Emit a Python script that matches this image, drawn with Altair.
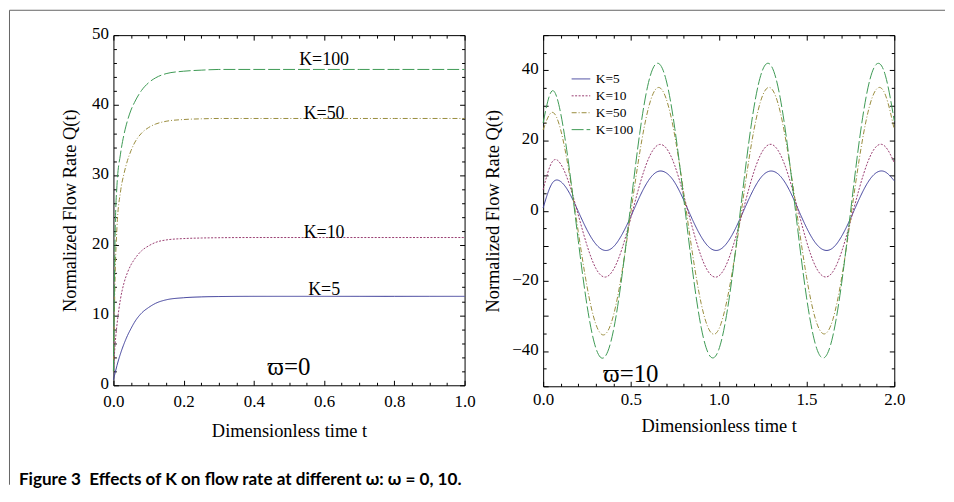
import altair as alt
import pandas as pd

# ---------------- data ----------------
K_LABELS = ["K=5", "K=10", "K=50", "K=100"]

# left panel (omega = 0)
T_W0 = [0, 0.005, 0.01, 0.02, 0.03, 0.04, 0.05, 0.06, 0.08, 0.10, 0.12, 0.15,
        0.20, 0.25, 0.30, 0.40, 0.50, 0.60, 0.70, 0.80, 0.90, 1.00]
W0_K5 = [0.8, 1.8, 2.8, 4.5, 5.9, 7.1, 8.1, 9.0, 10.3, 11.1, 11.7, 12.2,
         12.5, 12.62, 12.67, 12.7, 12.7, 12.7, 12.7, 12.7, 12.7, 12.7]
W0_K10 = [2.0, 6.0, 8.6, 12.3, 14.6, 16.1, 17.2, 18.0, 19.2, 19.9, 20.4, 20.75,
          20.95, 21.03, 21.07, 21.1, 21.1, 21.1, 21.1, 21.1, 21.1, 21.1]
W0_K50 = [2.0, 16.0, 22.5, 27.6, 30.2, 32.1, 33.5, 34.6, 36.0, 36.8, 37.3, 37.7,
          37.95, 38.05, 38.1, 38.1, 38.1, 38.1, 38.1, 38.1, 38.1, 38.1]
W0_K100 = [2.0, 22.0, 28.5, 33.0, 35.8, 37.8, 39.3, 40.4, 42.1, 43.2, 43.9, 44.5,
           44.85, 45.0, 45.1, 45.1, 45.1, 45.1, 45.1, 45.1, 45.1, 45.1]

# right panel (omega = 10)
T_W10 = [0.00, 0.05, 0.10, 0.15, 0.20, 0.25, 0.30, 0.35, 0.40, 0.45, 0.50,
         0.55, 0.60, 0.65, 0.70, 0.75, 0.80, 0.85, 0.90, 0.95, 1.00,
         1.05, 1.10, 1.15, 1.20, 1.25, 1.30, 1.35, 1.40, 1.45, 1.50,
         1.55, 1.60, 1.65, 1.70, 1.75, 1.80, 1.85, 1.90, 1.95, 2.00]
W10_K5 = [0.8, 7.7, 8.3, 5.0, -0.2, -5.5, -9.5, -11.3, -10.3, -6.7, -1.6,
          4.0, 8.6, 11.1, 10.8, 8.0, 3.1, -2.5, -7.4, -10.6, -11.2,
          -9.0, -4.6, 0.9, 6.2, 10.0, 11.3, 9.9, 6.1, 0.7, -4.8,
          -9.1, -11.2, -10.6, -7.3, -2.3, 3.3, 8.1, 10.9, 11.0, 8.5]
W10_K10 = [6.0, 13.8, 13.3, 7.4, -1.2, -9.9, -16.4, -18.9, -16.8, -10.7, -1.9,
           7.4, 14.8, 18.6, 17.9, 12.8, 4.5, -4.8, -13.0, -18.0, -18.6,
           -14.6, -7.0, 2.2, 11.0, 17.0, 18.9, 16.1, 9.5, 0.5, -8.7,
           -15.7, -18.8, -17.4, -11.7, -3.1, 6.2, 14.0, 18.4, 18.2, 13.7]
W10_K50 = [23.0, 28.0, 23.0, 10.3, -6.0, -21.6, -32.3, -35.3, -29.9, -17.2, -0.3,
           16.5, 29.3, 35.0, 32.0, 21.3, 5.3, -12.0, -26.4, -34.3, -33.8,
           -24.8, -10.2, 7.2, 22.8, 32.8, 34.8, 28.2, 14.7, -2.3, -18.8,
           -30.7, -35.1, -31.0, -19.2, -2.6, 14.5, 28.0, 34.7, 32.9, 23.1]
W10_K100 = [25.0, 34.1, 27.7, 11.6, -8.5, -27.0, -39.1, -41.7, -34.2, -18.2, 2.1,
            22.0, 36.5, 42.0, 37.3, 23.4, 3.8, -16.7, -33.2, -41.4, -39.6,
            -28.1, -9.7, 11.1, 29.2, 40.1, 41.2, 32.2, 15.3, -5.3, -24.6,
            -37.9, -41.9, -35.7, -20.7, -0.7, 19.6, 35.0, 41.8, 38.4, 25.6]

# tick values
L_X_MAJOR = [0, 0.2, 0.4, 0.6, 0.8, 1.0]
L_X_MINOR = [0.05, 0.1, 0.15, 0.25, 0.3, 0.35, 0.45, 0.5, 0.55, 0.65, 0.7, 0.75, 0.85, 0.9, 0.95]
L_Y_MAJOR = [0, 10, 20, 30, 40, 50]
L_Y_MINOR = [2, 4, 6, 8, 12, 14, 16, 18, 22, 24, 26, 28, 32, 34, 36, 38, 42, 44, 46, 48]
R_X_MAJOR = [0, 0.5, 1.0, 1.5, 2.0]
R_X_MINOR = [0.1, 0.2, 0.3, 0.4, 0.6, 0.7, 0.8, 0.9, 1.1, 1.2, 1.3, 1.4, 1.6, 1.7, 1.8, 1.9]
R_Y_MAJOR = [-40, -20, 0, 20, 40]
R_Y_TICKS = [-50, -40, -30, -20, -10, 0, 10, 20, 30, 40, 50]
R_Y_MINOR = [-45, -35, -25, -15, -5, 5, 15, 25, 35, 45]

# annotations
LEFT_NOTES_TEXT = ["K=100", "K=50", "K=10", "K=5"]
LEFT_NOTES_T = [0.6, 0.6, 0.6, 0.6]
LEFT_NOTES_Q = [46.4, 38.8, 21.8, 13.55]
CAPTION = "Figure 3\u00a0\u00a0Effects of K on flow rate at different \u03c9: \u03c9 = 0, 10."

# ---------------- styles ----------------
SERIF = "Liberation Serif, Times New Roman, DejaVu Serif, serif"
COLORS = ["#3d3d99", "#993d71", "#998c3d", "#3d9954"]
DASHES = [[1, 0], [2, 1.5], [5, 2, 1, 2], [12, 3]]
W, H_L, H_R = 353, 352, 353


def long_df(t, series):
    rows = []
    for lab, vals in zip(K_LABELS, series):
        for tt, v in zip(t, vals):
            rows.append({"t": tt, "q": v, "K": lab})
    return pd.DataFrame(rows)


df0 = long_df(T_W0, [W0_K5, W0_K10, W0_K50, W0_K100])
df10 = long_df(T_W10, [W10_K5, W10_K10, W10_K50, W10_K100])


def tick_layers(df, xdom, ydom, xmaj, xmin, ymaj, ymin):
    out = []
    for xo, yo in (("bottom", "left"), ("top", "right")):
        for xv, yv, sz in ((xmaj, ymaj, 5), (xmin, ymin, 3)):
            out.append(
                alt.Chart(df).mark_point(opacity=0).encode(
                    x=alt.X("t:Q", scale=alt.Scale(domain=xdom, nice=False, zero=False),
                            axis=alt.Axis(orient=xo, values=xv, tickSize=sz, offset=-sz,
                                          labels=False, domain=False, grid=False, title=None,
                                          tickColor="#000", tickWidth=1)),
                    y=alt.Y("q:Q", scale=alt.Scale(domain=ydom, nice=False, zero=False),
                            axis=alt.Axis(orient=yo, values=yv, tickSize=sz, offset=-sz,
                                          labels=False, domain=False, grid=False, title=None,
                                          tickColor="#000", tickWidth=1)),
                )
            )
    return out


def lines(df, xdom, ydom, xlab, ylab, h, xpad, xtitle_y, ytitle_x, legend, interp):
    return alt.Chart(df).mark_line(strokeWidth=1, interpolate=interp).encode(
        x=alt.X("t:Q", scale=alt.Scale(domain=xdom, nice=False, zero=False),
                axis=alt.Axis(orient="bottom", values=xlab, format=".1f", ticks=False,
                              domain=False, grid=False, labelPadding=xpad,
                              title="Dimensionless time t", titleX=W / 2, titleY=xtitle_y,
                              titleBaseline="middle", titleAlign="center")),
        y=alt.Y("q:Q", scale=alt.Scale(domain=ydom, nice=False, zero=False),
                axis=alt.Axis(orient="left", values=ylab, format="d", ticks=False,
                              domain=False, grid=False, labelPadding=5, labelOffset=-1.5,
                              title="Normalized Flow Rate Q(t)", titleX=ytitle_x, titleY=h / 2,
                              titleAngle=270, titleBaseline="middle", titleAlign="center")),
        color=alt.Color("K:N", scale=alt.Scale(domain=K_LABELS, range=COLORS), legend=legend),
        strokeDash=alt.StrokeDash("K:N", scale=alt.Scale(domain=K_LABELS, range=DASHES), legend=legend),
    )


one = pd.DataFrame({"a": [0]})

# ---------------- left panel ----------------
notes_df = pd.DataFrame({"text": LEFT_NOTES_TEXT, "t": LEFT_NOTES_T, "q": LEFT_NOTES_Q})
left_notes = alt.Chart(notes_df).mark_text(font=SERIF, fontSize=18, baseline="middle", align="center", color="#000").encode(
    x=alt.X("t:Q", scale=alt.Scale(domain=[0, 1], nice=False, zero=False), axis=None),
    y=alt.Y("q:Q", scale=alt.Scale(domain=[0, 50], nice=False, zero=False), axis=None),
    text="text:N",
)
om0_df = pd.DataFrame({"text": ["\u03d6=0"], "t": [0.5], "q": [2.54]})
left_om = alt.Chart(om0_df).mark_text(font=SERIF, fontSize=25, baseline="middle", align="center", color="#000").encode(
    x=alt.X("t:Q", scale=alt.Scale(domain=[0, 1], nice=False, zero=False), axis=None),
    y=alt.Y("q:Q", scale=alt.Scale(domain=[0, 50], nice=False, zero=False), axis=None),
    text="text:N",
)
border_top = alt.Chart(one).mark_rule(color="#666", strokeWidth=1).encode(
    x=alt.value(-104.5), x2=alt.value(836), y=alt.value(-25))
border_left = alt.Chart(one).mark_rule(color="#666", strokeWidth=1).encode(
    x=alt.value(-104.5), y=alt.value(-25), y2=alt.value(452))
caption = alt.Chart(one).mark_text(
    text=CAPTION, font="Liberation Sans Narrow, Lato, sans-serif", fontWeight="bold",
    fontSize=17.2, align="left", baseline="alphabetic", color="#000").encode(
    x=alt.value(-95), y=alt.value(452))

left = alt.layer(
    lines(df0, [0, 1], [0, 50], L_X_MAJOR, L_Y_MAJOR, H_L, 8, 45.8, -43.9, None, "monotone"),
    left_notes, left_om, border_top, border_left, caption,
    *tick_layers(df0, [0, 1], [0, 50], L_X_MAJOR, L_X_MINOR, L_Y_MAJOR, L_Y_MINOR),
).resolve_scale(x="independent", y="independent").properties(width=W, height=H_L)

# ---------------- right panel ----------------
leg = alt.Legend(orient="none", legendX=28, legendY=34, title=None, symbolType="stroke",
                 symbolSize=350, symbolStrokeWidth=1, labelFont=SERIF, labelFontSize=13.5,
                 labelOffset=5, padding=0, rowPadding=0, labelColor="#000")
om10_df = pd.DataFrame({"text": ["\u03d6=10"], "t": [0.5], "q": [-46.4]})
right_om = alt.Chart(om10_df).mark_text(font=SERIF, fontSize=25, baseline="middle", align="center", color="#000").encode(
    x=alt.X("t:Q", scale=alt.Scale(domain=[0, 2], nice=False, zero=False), axis=None),
    y=alt.Y("q:Q", scale=alt.Scale(domain=[-50, 50], nice=False, zero=False), axis=None),
    text="text:N",
)
right = alt.layer(
    lines(df10, [0, 2], [-50, 50], R_X_MAJOR, R_Y_MAJOR, H_R, 5, 39, -51, leg, "natural"),
    right_om,
    *tick_layers(df10, [0, 2], [-50, 50], R_X_MAJOR, R_X_MINOR, R_Y_TICKS, R_Y_MINOR),
).resolve_scale(x="independent", y="independent").properties(width=W, height=H_R)

chart = alt.hconcat(left, right, spacing=79, bounds="flush").resolve_scale(
    color="independent", strokeDash="independent"
).properties(padding=0).configure_view(stroke="#000", strokeWidth=1).configure_axis(
    labelFont=SERIF, labelFontSize=17, labelColor="#000", titleFont=SERIF, titleFontSize=18.5,
    titleFontWeight="normal", titleColor="#000", labelFlush=False, labelOverlap=False,
)

chart.save("out.html", embed_options={"renderer": "svg", "actions": False})
